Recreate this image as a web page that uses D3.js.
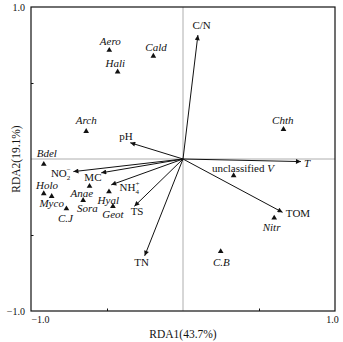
<!DOCTYPE html>
<html>
<head>
<meta charset="utf-8">
<script src="https://cdn.jsdelivr.net/npm/d3@7"></script>
<style>
  body { margin: 0; background: #fff; }
  svg text { font-family: "Liberation Serif", "DejaVu Serif", serif; fill: #111; }
</style>
</head>
<body>
<svg id="chart" width="343" height="342"></svg>
<script>
// species scores (triangles)
var speciesNames = ["Aero", "Cald", "Hali", "Arch", "Chth", "Bdel", "unclassified V",
                    "Holo", "Myco", "C.J", "Anae", "Sora", "Hyal", "Geot", "Nitr", "C.B"];
var speciesRDA1 = [-0.485, -0.195, -0.430, -0.637, 0.661, -0.916, 0.333,
                   -0.916, -0.864, -0.767, -0.615, -0.657, -0.487, -0.461, 0.600, 0.248];
var speciesRDA2 = [0.716, 0.677, 0.573, 0.182, 0.195, -0.034, -0.109,
                   -0.228, -0.245, -0.327, -0.179, -0.272, -0.215, -0.311, -0.388, -0.608];

// environmental factors (arrows)
var envNames = ["C/N", "pH", "T", "TOM", "NO2", "MC", "NH4", "TS", "TN"];
var envRDA1 = [0.098, -0.347, 0.776, 0.655, -0.721, -0.538, -0.472, -0.320, -0.252];
var envRDA2 = [0.815, 0.107, -0.017, -0.351, -0.083, -0.091, -0.170, -0.311, -0.637];

var axisTicks = [-1, -0.5, 0, 0.5, 1];

var svg = d3.select("#chart");
var plotL = 31, plotR = 335, plotT = 7, plotB = 311;

var x = d3.scaleLinear().domain([-1, 1]).range([plotL, plotR]);
var y = d3.scaleLinear().domain([-1, 1]).range([plotB, plotT]);

// label placement relative to each mark: [dx, dy, anchor]
var speciesLabelPos = {
  "Aero": [1, -8.7], "Cald": [2.7, -9], "Hali": [-2.3, -9], "Arch": [0, -10.7],
  "Chth": [-0.7, -9.3], "Bdel": [3, -11.4], "unclassified V": [9.3, -7.7],
  "Holo": [3.3, -9], "Myco": [0, 6.6], "C.J": [-1, 9.3], "Anae": [-7.6, 6.6],
  "Sora": [4.3, 7.6], "Hyal": [-0.7, 8], "Geot": [0, 7.6], "Nitr": [-2.6, 9.4],
  "C.B": [0.7, 10.6]
};
var envLabelPos = {
  "C/N": [3.7, -10, "middle"], "pH": [-4.3, -6.6, "middle"], "T": [3, 2, "start"],
  "TOM": [3.3, 0.6, "start"], "NO2": [-22.5, 1.5, "start"], "MC": [-8.3, 4.4, "middle"],
  "NH4": [8.3, 2.6, "start"], "TS": [2.7, 5.3, "middle"], "TN": [-3, 6.7, "middle"]
};

// zero lines
svg.append("line")
    .attr("x1", x(0)).attr("x2", x(0)).attr("y1", plotT).attr("y2", plotB)
    .attr("stroke", "#999").attr("stroke-width", 0.8);
svg.append("line")
    .attr("x1", plotL).attr("x2", plotR).attr("y1", y(0)).attr("y2", y(0))
    .attr("stroke", "#999").attr("stroke-width", 0.8);

// frame
svg.append("rect")
    .attr("x", plotL).attr("y", plotT)
    .attr("width", plotR - plotL).attr("height", plotB - plotT)
    .attr("fill", "none").attr("stroke", "#111").attr("stroke-width", 1.2);

// axes with small inner ticks, labels only at the ends
var fmt = function(d) { return Math.abs(d) === 1 ? (d < 0 ? "\u22121.0" : "1.0") : ""; };
var xAxis = svg.append("g").attr("transform", "translate(0," + plotB + ")")
    .call(d3.axisBottom(x).tickValues(axisTicks).tickSize(-2.5).tickFormat(fmt));
var yAxis = svg.append("g").attr("transform", "translate(" + plotL + ",0)")
    .call(d3.axisLeft(y).tickValues(axisTicks).tickSize(-2.5).tickFormat(fmt));
[xAxis, yAxis].forEach(function(a) {
  a.select(".domain").remove();
  a.selectAll(".tick line").attr("stroke", "#111")
      .attr("opacity", function(d) { return Math.abs(d) === 0.5 ? 1 : 0; });
  a.selectAll("text").attr("font-size", 10).attr("font-family", "Liberation Serif").attr("fill", "#333");
});
xAxis.selectAll("text").attr("dy", "0.9em")
    .attr("dx", function(d) { return d < 0 ? 9 : -3; });
yAxis.selectAll("text").attr("x", -6);

// axis titles
svg.append("text").attr("x", x(0)).attr("y", 338)
    .attr("text-anchor", "middle").attr("font-size", 11.5).attr("fill", "#222")
    .text("RDA1(43.7%)");
svg.append("text").attr("transform", "translate(20," + y(0) + ") rotate(-90)")
    .attr("text-anchor", "middle").attr("font-size", 11.5).attr("fill", "#222")
    .text("RDA2(19.1%)");

// arrows
svg.append("defs").append("marker")
    .attr("id", "head").attr("viewBox", "0 0 10 10")
    .attr("refX", 10).attr("refY", 5)
    .attr("markerWidth", 7).attr("markerHeight", 5)
    .attr("markerUnits", "userSpaceOnUse")
    .attr("orient", "auto")
  .append("path").attr("d", "M0,0L10,5L0,10Z").attr("fill", "#111");

var envData = envNames.map(function(n, i) { return {name: n, a: envRDA1[i], b: envRDA2[i]}; });

svg.append("g").selectAll("line").data(envData).enter().append("line")
    .attr("x1", x(0)).attr("y1", y(0))
    .attr("x2", function(d) { return x(d.a); })
    .attr("y2", function(d) { return y(d.b); })
    .attr("stroke", "#111").attr("stroke-width", 1)
    .attr("marker-end", "url(#head)");

var envText = svg.append("g").selectAll("text").data(envData).enter().append("text")
    .attr("x", function(d) { return x(d.a) + envLabelPos[d.name][0]; })
    .attr("y", function(d) { return y(d.b) + envLabelPos[d.name][1]; })
    .attr("dy", "0.35em")
    .attr("text-anchor", function(d) { return envLabelPos[d.name][2]; })
    .attr("font-size", 11)
    .attr("font-style", function(d) { return d.name === "T" ? "italic" : null; });

envText.each(function(d) {
  var t = d3.select(this);
  if (d.name === "NO2" || d.name === "NH4") {
    t.append("tspan").text(d.name.slice(0, 2));
    t.append("tspan").attr("font-size", 7).attr("dy", 3).text(d.name.slice(2));
    t.append("tspan").attr("font-size", 7).attr("dx", -3.5).attr("dy", -8)
        .text(d.name === "NO2" ? "\u2212" : "+");
  } else {
    t.text(d.name);
  }
});

// species triangles
var spData = speciesNames.map(function(n, i) { return {name: n, a: speciesRDA1[i], b: speciesRDA2[i]}; });

svg.append("g").selectAll("path").data(spData).enter().append("path")
    .attr("transform", function(d) { return "translate(" + x(d.a) + "," + y(d.b) + ")"; })
    .attr("d", d3.symbol().type(d3.symbolTriangle).size(14))
    .attr("fill", "#111");

var spText = svg.append("g").selectAll("text").data(spData).enter().append("text")
    .attr("x", function(d) { return x(d.a) + speciesLabelPos[d.name][0]; })
    .attr("y", function(d) { return y(d.b) + speciesLabelPos[d.name][1]; })
    .attr("dy", "0.35em")
    .attr("text-anchor", "middle")
    .attr("font-size", 11);

spText.each(function(d) {
  var t = d3.select(this);
  if (d.name === "unclassified V") {
    t.append("tspan").text("unclassified ");
    t.append("tspan").attr("font-style", "italic").text("V");
  } else {
    t.attr("font-style", "italic").text(d.name);
  }
});
</script>
</body>
</html>
